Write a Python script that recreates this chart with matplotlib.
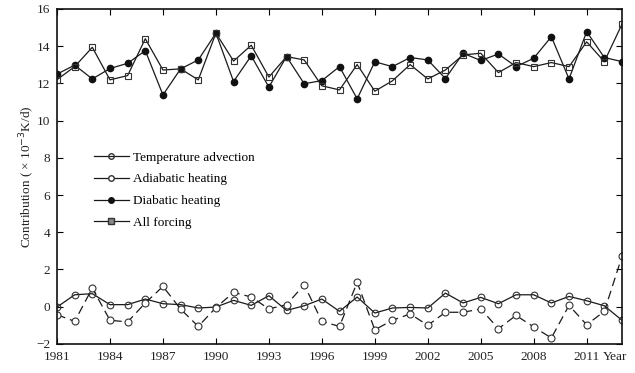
import matplotlib
matplotlib.use('Agg')
import matplotlib.pyplot as plt
from matplotlib.lines import Line2D

plt.rcParams['font.family'] = ['Liberation Serif', 'DejaVu Serif']

years = list(range(1981, 2014))

# Temperature advection (solid line)
temp_adv = [-0.02, 0.64, 0.70, 0.11, 0.11, 0.41, 0.16, 0.11, -0.07, -0.02,
            0.34, 0.07, 0.59, -0.20, 0.05, 0.41, -0.25, 0.52, -0.34, -0.07,
            -0.04, -0.07, 0.73, 0.20, 0.50, 0.16, 0.64, 0.64, 0.20, 0.55,
            0.32, 0.05, -0.73]

# Adiabatic heating (broken line)
adiabatic = [-0.43, -0.79, 1.00, -0.73, -0.82, 0.20, 1.09, -0.13, -1.06, -0.05,
             0.77, 0.52, -0.12, 0.11, 1.18, -0.79, -1.06, 1.31, -1.24, -0.73,
             -0.39, -1.00, -0.30, -0.30, -0.12, -1.18, -0.47, -1.09, -1.68, 0.07,
             -0.97, -0.25, 2.70]

# Diabatic heating
diabatic = [12.50, 12.98, 12.24, 12.80, 13.08, 13.76, 11.38, 12.78, 13.26, 14.70,
            12.10, 13.48, 11.80, 13.44, 11.98, 12.15, 12.90, 11.17, 13.16, 12.90,
            13.39, 13.26, 12.26, 13.62, 13.23, 13.58, 12.90, 13.35, 14.51, 12.24,
            14.78, 13.39, 13.17]

# All forcing
all_forcing = [12.20, 12.90, 13.94, 12.19, 12.42, 14.40, 12.72, 12.78, 12.19, 14.70,
               13.20, 14.05, 12.34, 13.44, 13.26, 11.87, 11.65, 13.01, 11.58, 12.14,
               13.01, 12.24, 12.72, 13.53, 13.62, 12.58, 13.12, 12.90, 13.12, 12.90,
               14.23, 13.17, 15.18]

xticks = list(range(1981, 2012, 3))
yticks = list(range(-2, 17, 2))

fig = plt.figure(figsize=(6.35, 3.73), dpi=100)
ax = fig.add_axes([0.0898, 0.078, 0.8897, 0.898])

lc = '#1a1a1a'
ax.plot(years, temp_adv, color=lc, lw=0.9, marker='o', ms=4.8,
        mfc='none', mec='#333333', mew=0.8)
ax.plot(years, adiabatic, color=lc, lw=0.9, ls=(0, (7, 4)), marker='o', ms=5,
        mfc='white', mec='#333333', mew=0.8)
ax.plot(years, diabatic, color=lc, lw=0.9, marker='o', ms=4.5,
        mfc='#111111', mec='#111111')
ax.plot(years, all_forcing, color=lc, lw=0.9, marker='s', ms=4.5,
        mfc='none', mec='#333333', mew=0.8)

handles = [
    Line2D([], [], color=lc, lw=0.9, marker='o', ms=4, mfc='none', mec='#333333'),
    Line2D([], [], color=lc, lw=0.9, marker='o', ms=4, mfc='white', mec='#333333'),
    Line2D([], [], color=lc, lw=0.9, marker='o', ms=4, mfc='#111111', mec='#111111'),
    Line2D([], [], color=lc, lw=0.9, marker='s', ms=4, mfc='#888888', mec='#333333'),
]
labels = ['Temperature advection', 'Adiabatic heating', 'Diabatic heating', 'All forcing']
ax.legend(handles, labels, loc='upper left', bbox_to_anchor=(0.045, 0.61),
          frameon=False, fontsize=9.5, handlelength=2.6, handletextpad=0.3,
          labelspacing=0.72)

ax.set_xlim(1981, 2013)
ax.set_ylim(-2, 16)
ax.set_xticks(xticks)
ax.set_yticks(yticks)
ax.set_xticklabels([str(y) for y in xticks], fontsize=9.5, color='#222222')
ax.set_yticklabels([str(y).replace('-', '\u2212') for y in yticks], fontsize=9.5, color='#222222')
ax.tick_params(direction='in', length=4, width=0.8, top=True, right=True, pad=5)
ax.text(2012.6, -2.72, 'Year', ha='center', va='center', fontsize=9.5, color='#222222')
ax.set_ylabel('Contribution ( \u00d7 10$^{-3}$K/d)', fontsize=9.5, color='#222222', labelpad=-1)

for s in ax.spines.values():
    s.set_linewidth(1.2)
    s.set_color('#111111')

fig.savefig('out.png', dpi=100)
